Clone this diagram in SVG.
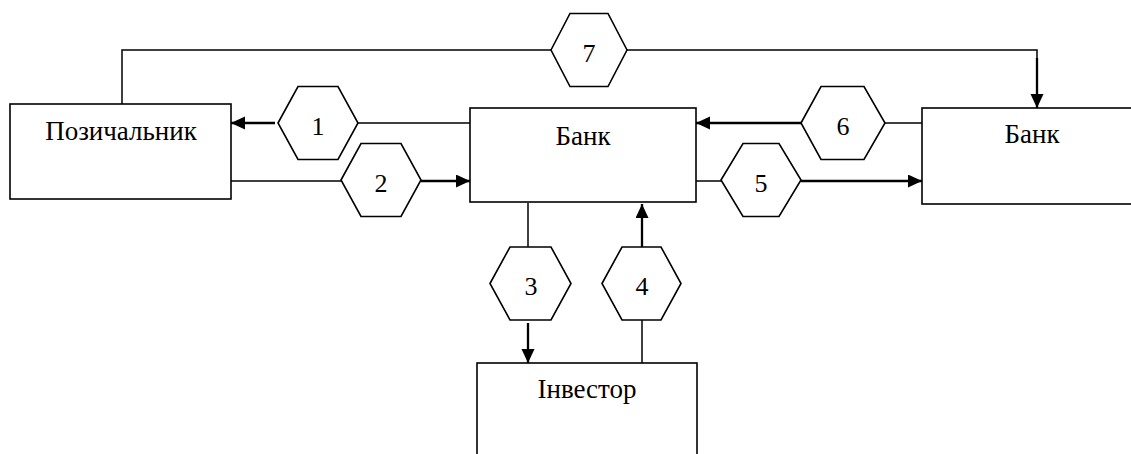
<svg xmlns="http://www.w3.org/2000/svg" width="1131" height="454" viewBox="0 0 1131 454">
<defs>
<marker id="ah" markerUnits="userSpaceOnUse" markerWidth="16" markerHeight="14" refX="14" refY="6.5" orient="auto">
<path d="M0,0 L14,6.5 L0,13 Z" fill="#000"/>
</marker>
</defs>
<style>
.box{fill:#fff;stroke:#000;stroke-width:1.6}
.hex{fill:#fff;stroke:#000;stroke-width:1.6}
.ln{fill:none;stroke:#000;stroke-width:1.5}
.ar{fill:none;stroke:#000;stroke-width:2.3;marker-end:url(#ah)}
text{font-family:"Liberation Serif","DejaVu Serif",serif;font-size:27px;fill:#000;text-anchor:middle}
text.n{font-size:26px}
</style>
<rect width="1131" height="454" fill="#fff"/>
<g id="connectors">
<polyline class="ln" points="122,104 122,50 551,50"/>
<polyline class="ln" points="627,50 1037,50 1037,60"/>
<line class="ar" x1="1037" y1="58" x2="1037" y2="108"/>
<line class="ln" x1="470" y1="123" x2="358" y2="123"/>
<line class="ar" x1="275" y1="123" x2="231" y2="123"/>
<line class="ln" x1="231" y1="181" x2="341" y2="181"/>
<line class="ar" x1="421" y1="181" x2="470" y2="181"/>
<line class="ln" x1="922" y1="123" x2="885" y2="123"/>
<line class="ar" x1="801" y1="123" x2="696" y2="123"/>
<line class="ln" x1="696" y1="181" x2="721" y2="181"/>
<line class="ar" x1="801" y1="181" x2="922" y2="181"/>
<line class="ln" x1="528" y1="203" x2="528" y2="247"/>
<line class="ar" x1="528" y1="323" x2="528" y2="363"/>
<line class="ln" x1="642" y1="363" x2="642" y2="320"/>
<line class="ar" x1="642" y1="247" x2="642" y2="204"/>
</g>
<g id="borrower">
<rect class="box" x="10" y="104" width="221" height="95"/>
<text x="121" y="140">Позичальник</text>
</g>
<g id="bank1">
<rect class="box" x="470" y="108" width="226" height="94"/>
<text x="583" y="145">Банк</text>
</g>
<g id="bank2">
<rect class="box" x="922" y="108" width="230" height="96"/>
<text x="1032" y="143">Банк</text>
</g>
<g id="investor">
<rect class="box" x="477" y="363" width="220" height="110"/>
<text x="587" y="398">Інвестор</text>
</g>
<g id="h1"><polygon class="hex" points="278,123 298,86.5 338,86.5 358,123 338,159.5 298,159.5"/><text class="n" x="318" y="135">1</text></g>
<g id="h2"><polygon class="hex" points="341,180 361,143.5 401,143.5 421,180 401,216.5 361,216.5"/><text class="n" x="381" y="192">2</text></g>
<g id="h3"><polygon class="hex" points="490,283.5 510,247 551,247 571,283.5 551,320 510,320"/><text class="n" x="531" y="295">3</text></g>
<g id="h4"><polygon class="hex" points="602,283.5 622,247 661,247 681,283.5 661,320 622,320"/><text class="n" x="642" y="295">4</text></g>
<g id="h5"><polygon class="hex" points="721,180 743,143.5 779,143.5 801,180 779,216.5 743,216.5"/><text class="n" x="761" y="192">5</text></g>
<g id="h6"><polygon class="hex" points="801,123 821,86.5 864,86.5 885,123 864,159.5 821,159.5"/><text class="n" x="843" y="135">6</text></g>
<g id="h7"><polygon class="hex" points="551,50 570,13.5 608,13.5 627,50 608,86.5 570,86.5"/><text class="n" x="589" y="62">7</text></g>
</svg>
